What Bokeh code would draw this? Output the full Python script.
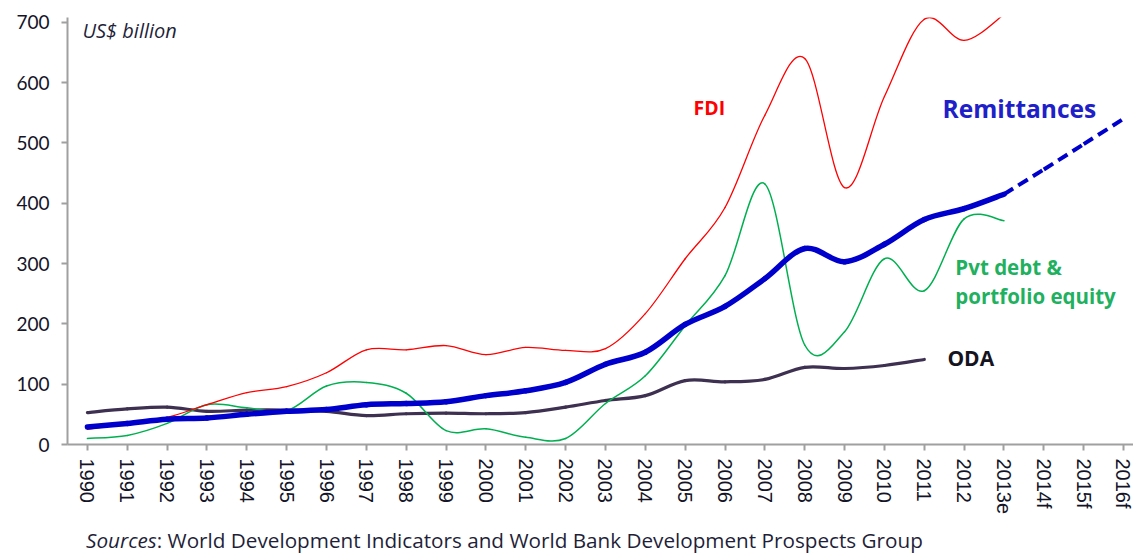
from bokeh.plotting import figure
from bokeh.layouts import column
from bokeh.models import Range1d, Label, FixedTicker, ColumnDataSource, Div
from bokeh.embed import file_html
from bokeh.resources import INLINE

years = ["1990", "1991", "1992", "1993", "1994", "1995", "1996", "1997", "1998", "1999",
         "2000", "2001", "2002", "2003", "2004", "2005", "2006", "2007", "2008", "2009",
         "2010", "2011", "2012", "2013e", "2014f", "2015f", "2016f"]
y_ticks = [0, 100, 200, 300, 400, 500, 600, 700]

remittances = [29, 35, 42, 44, 50, 55, 58, 66, 68, 71, 81, 89, 103, 133, 153, 199, 229,
               275, 325, 303, 332, 373, 391, 415]
remittances_forecast = [415, 456, 498, 540]   # 2013e .. 2016f
fdi = [25, 35, 45, 66, 86, 96, 119, 157, 157, 164, 149, 161, 156, 159, 217, 308, 393,
       546, 640, 426, 577, 705, 670, 713]
pvt_debt_equity = [10, 15, 35, 66, 61, 56, 97, 103, 85, 23, 26, 12, 10, 68, 114, 197, 280,
                   432, 165, 187, 308, 255, 374, 371]
oda = [53, 59, 62, 55, 57, 57, 55, 48, 51, 52, 51, 53, 62, 73, 81, 106, 104, 108, 128,
       126, 131, 141]


def smooth_source(xs, ys):
    """Excel-style smoothed line: one cubic Bezier per segment (Catmull-Rom control points)."""
    n = len(xs)
    d = dict(x0=[], y0=[], x1=[], y1=[], cx0=[], cy0=[], cx1=[], cy1=[])
    for i in range(n - 1):
        xp, yp = (xs[i - 1], ys[i - 1]) if i > 0 else (xs[i], ys[i])
        xn, yn = (xs[i + 2], ys[i + 2]) if i + 2 < n else (xs[i + 1], ys[i + 1])
        d["x0"].append(xs[i]); d["y0"].append(ys[i])
        d["x1"].append(xs[i + 1]); d["y1"].append(ys[i + 1])
        d["cx0"].append(xs[i] + (xs[i + 1] - xp) / 6.0)
        d["cy0"].append(ys[i] + (ys[i + 1] - yp) / 6.0)
        d["cx1"].append(xs[i + 1] - (xn - xs[i]) / 6.0)
        d["cy1"].append(ys[i + 1] - (yn - ys[i]) / 6.0)
    return ColumnDataSource(d)


p = figure(width=1133, height=528, output_backend="svg", toolbar_location=None,
           x_range=Range1d(-0.5, 26.25), y_range=Range1d(0, 708),
           min_border_left=67, min_border_right=0, min_border_top=17, min_border_bottom=84)
p.xgrid.visible = False
p.ygrid.visible = False
p.outline_line_color = None
p.background_fill_color = "white"
p.border_fill_color = "white"

for ax in (p.xaxis[0], p.yaxis[0]):
    ax.axis_line_color = "#A0A0A0"
    ax.axis_line_width = 2
    ax.major_tick_line_color = "#A0A0A0"
    ax.major_tick_line_width = 2
    ax.major_tick_out = 6
    ax.major_tick_in = 0
    ax.minor_tick_line_color = None
    ax.major_label_text_color = "#141428"

p.yaxis.ticker = FixedTicker(ticks=y_ticks)
p.yaxis.major_label_text_font = "Lato"
p.yaxis.major_label_text_font_size = "19px"
p.yaxis.major_label_standoff = 12

p.xaxis.ticker = FixedTicker(ticks=list(range(len(years))))
p.xaxis.major_label_overrides = {i: y for i, y in enumerate(years)}
p.xaxis.major_label_orientation = "vertical"
p.xaxis.major_label_text_font = "Liberation Sans"
p.xaxis.major_label_text_font_size = "20px"
p.xaxis.major_label_standoff = 8

idx = list(range(len(years)))
bz = dict(x0="x0", y0="y0", x1="x1", y1="y1", cx0="cx0", cy0="cy0", cx1="cx1", cy1="cy1")

p.bezier(source=smooth_source(idx[:len(oda)], oda), line_color="#3D3050", line_width=3.2,
         line_cap="round", **bz)
p.bezier(source=smooth_source(idx[:len(pvt_debt_equity)], pvt_debt_equity),
         line_color="#00B050", line_width=1.5, line_cap="round", **bz)
p.bezier(source=smooth_source(idx[:len(fdi)], fdi), line_color="#FF0000", line_width=1.3,
         line_cap="round", **bz)
p.bezier(source=smooth_source(idx[:len(remittances)], remittances), line_color="#0000CC",
         line_width=5.5, line_cap="round", **bz)
p.bezier(source=smooth_source(idx[len(remittances) - 1:], remittances_forecast),
         line_color="#0000CC", line_width=4, line_dash="11 6", **bz)

labels = [
    dict(x=-0.125, y=686, text="US$ billion", text_font_style="italic", text_font_size="20px",
         text_color="#1F1F3A"),
    dict(x=15.21, y=559, text="FDI", text_font_style="bold", text_font_size="19.5px",
         text_color="#FF0000"),
    dict(x=21.46, y=557, text="Remittances", text_font_style="bold", text_font_size="24.5px",
         text_color="#2020C8"),
    dict(x=21.78, y=295, text="Pvt debt &", text_font_style="bold", text_font_size="20.5px",
         text_color="#1FB060"),
    dict(x=21.78, y=247, text="portfolio equity", text_font_style="bold",
         text_font_size="20.5px", text_color="#1FB060"),
    dict(x=21.58, y=143, text="ODA", text_font_style="bold", text_font_size="21px",
         text_color="#141420"),
]
for lb in labels:
    p.add_layout(Label(text_font="Open Sans", text_baseline="middle", text_align="left", **lb))

source_note = Div(
    text="<i>Sources</i>: World Development Indicators and World Bank Development Prospects Group",
    width=1133, height=26, margin=(0, 0, 0, 0),
    styles={"font-family": "Open Sans", "font-size": "20.7px", "color": "#1F1F3A",
            "padding-left": "86px", "line-height": "24px", "white-space": "nowrap"})

layout = column(p, source_note, spacing=0)
open("out.html", "w").write(file_html(layout, INLINE))
